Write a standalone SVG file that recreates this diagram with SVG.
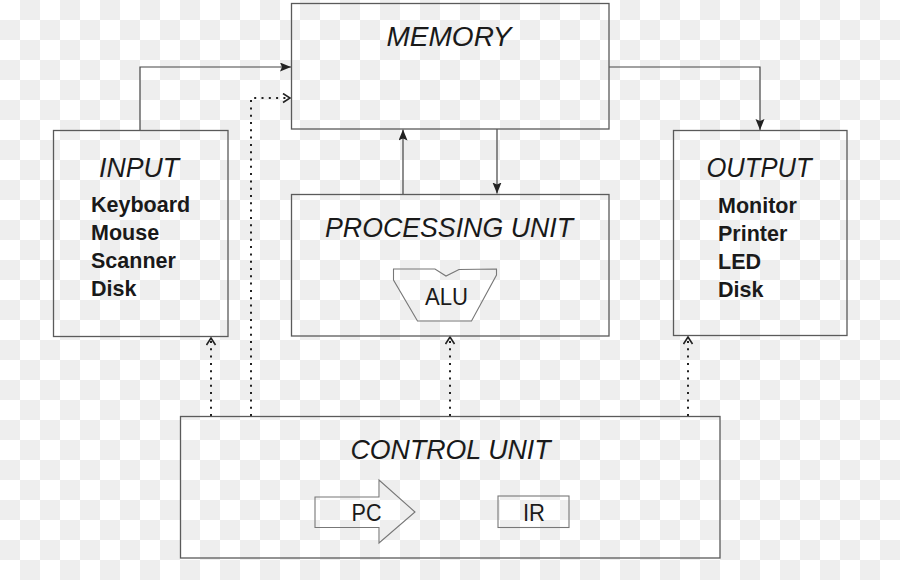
<svg xmlns="http://www.w3.org/2000/svg" width="900" height="580" viewBox="0 0 900 580">
  <defs>
    <pattern id="checker" x="0" y="0" width="40" height="40" patternUnits="userSpaceOnUse">
      <rect x="0" y="0" width="40" height="40" fill="#ffffff"/>
      <rect x="20" y="0" width="20" height="20" fill="#eeeeee"/>
      <rect x="0" y="20" width="20" height="20" fill="#eeeeee"/>
    </pattern>
    <marker id="solid" markerUnits="userSpaceOnUse" markerWidth="12" markerHeight="10" refX="11" refY="4.5" orient="auto">
      <path d="M0,0 L11,4.5 L0,9 L2,4.5 z" fill="#222"/>
    </marker>
    <marker id="chev" markerUnits="userSpaceOnUse" markerWidth="10" markerHeight="12" refX="8" refY="5" orient="auto">
      <path d="M1,0.5 L8,5 L1,9.5" fill="none" stroke="#222" stroke-width="1.6"/>
    </marker>
  </defs>
  <style>
    .box { fill: none; stroke: #5a5a5a; stroke-width: 1.3; }
    .shape { fill: none; stroke: #777; stroke-width: 1.1; }
    .title { font-family: "Liberation Sans", Arial, sans-serif; font-style: italic; font-size: 28px; fill: #1a1a1a; text-anchor: middle; }
    .item { font-family: "Liberation Sans", Arial, sans-serif; font-weight: bold; font-size: 21.5px; fill: #1a1a1a; }
    .small { font-family: "Liberation Sans", Arial, sans-serif; font-size: 23px; fill: #1a1a1a; text-anchor: middle; }
    .solid { fill: none; stroke: #444; stroke-width: 1.2; marker-end: url(#solid); }
    .dot { fill: none; stroke: #222; stroke-width: 2; stroke-dasharray: 2 5.3; marker-end: url(#chev); }
  </style>

  <rect x="0" y="0" width="900" height="580" fill="url(#checker)"/>

  <g id="connectors">
    <path class="solid" d="M140,130 V67 H291"/>
    <path class="solid" d="M609,67 H760 V130"/>
    <path class="solid" d="M403,194 V129.5"/>
    <path class="solid" d="M497,129 V193.5"/>
    <path class="dot" d="M251,416 V98 H290"/>
    <path class="dot" d="M211,416 V338"/>
    <path class="dot" d="M450,416 V337"/>
    <path class="dot" d="M688,416 V337"/>
  </g>

  <g id="memory">
    <rect class="box" x="291.5" y="3.5" width="317.5" height="125.5"/>
    <text class="title" x="449" y="46" textLength="125" lengthAdjust="spacingAndGlyphs">MEMORY</text>
  </g>

  <g id="input">
    <rect class="box" x="53.5" y="130.5" width="174.5" height="206"/>
    <text class="title" x="139" y="177" textLength="80" lengthAdjust="spacingAndGlyphs">INPUT</text>
    <text class="item" x="91" y="212">Keyboard</text>
    <text class="item" x="91" y="240">Mouse</text>
    <text class="item" x="91" y="268">Scanner</text>
    <text class="item" x="91" y="296">Disk</text>
  </g>

  <g id="output">
    <rect class="box" x="673.5" y="130.5" width="173.5" height="205"/>
    <text class="title" x="759" y="177" textLength="105" lengthAdjust="spacingAndGlyphs">OUTPUT</text>
    <text class="item" x="718" y="212.5">Monitor</text>
    <text class="item" x="718" y="240.5">Printer</text>
    <text class="item" x="718" y="268.5">LED</text>
    <text class="item" x="718" y="296.5">Disk</text>
  </g>

  <g id="processing-unit">
    <rect class="box" x="291.5" y="194.5" width="317.5" height="141.5"/>
    <text class="title" x="449" y="236.5" textLength="248" lengthAdjust="spacingAndGlyphs">PROCESSING UNIT</text>
  </g>

  <g id="alu">
    <polygon class="shape" points="393.5,269 435,269 446,276 459,269.5 496.5,269 496.5,275 471.5,321 417.5,321 393.5,280"/>
    <text class="small" x="446.5" y="305" font-size="25" textLength="43" lengthAdjust="spacingAndGlyphs">ALU</text>
  </g>

  <g id="control-unit">
    <rect class="box" x="180.5" y="416.5" width="539.5" height="141.5"/>
    <text class="title" x="450.5" y="458.5" textLength="200" lengthAdjust="spacingAndGlyphs">CONTROL UNIT</text>
  </g>

  <g id="pc">
    <polygon class="shape" points="315,497 379,497 379,480 415,512 379,543 379,527.5 315,527.5"/>
    <text class="small" x="366.5" y="521" textLength="30" lengthAdjust="spacingAndGlyphs">PC</text>
  </g>

  <g id="ir">
    <rect class="shape" x="498" y="496" width="71" height="31.5"/>
    <text class="small" x="534" y="521" textLength="22" lengthAdjust="spacingAndGlyphs">IR</text>
  </g>
</svg>
